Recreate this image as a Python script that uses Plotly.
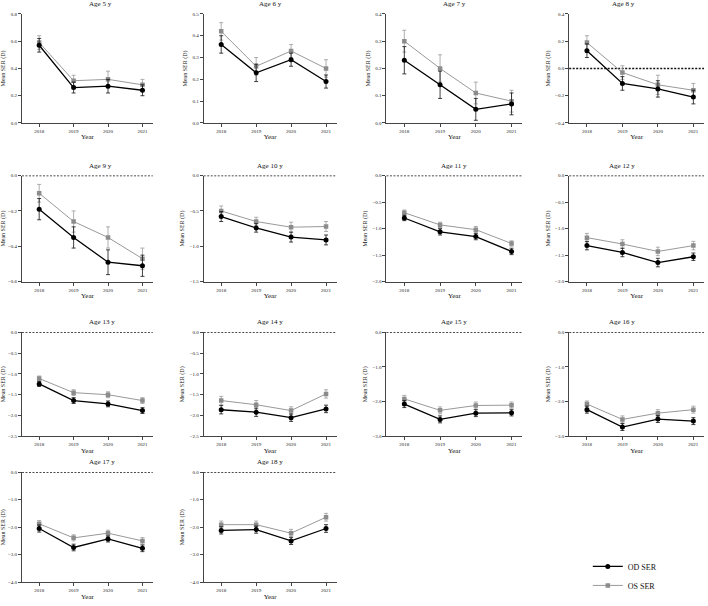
import plotly.graph_objects as go

years = [2018, 2019, 2020, 2021]
ages = [5, 6, 7, 8, 9, 10, 11, 12, 13, 14, 15, 16, 17, 18]

od_ser = {
    5: [0.57, 0.26, 0.27, 0.24],
    6: [0.36, 0.23, 0.29, 0.19],
    7: [0.23, 0.14, 0.05, 0.07],
    8: [0.13, -0.11, -0.15, -0.21],
    9: [-0.19, -0.35, -0.49, -0.51],
    10: [-0.58, -0.74, -0.87, -0.91],
    11: [-0.80, -1.06, -1.15, -1.43],
    12: [-1.32, -1.45, -1.64, -1.53],
    13: [-1.24, -1.64, -1.72, -1.88],
    14: [-1.86, -1.92, -2.05, -1.84],
    15: [-2.07, -2.51, -2.33, -2.32],
    16: [-2.23, -2.73, -2.50, -2.56],
    17: [-2.05, -2.74, -2.43, -2.77],
    18: [-2.12, -2.09, -2.50, -2.05],
}
os_ser = {
    5: [0.59, 0.31, 0.32, 0.28],
    6: [0.42, 0.26, 0.33, 0.25],
    7: [0.30, 0.20, 0.11, 0.08],
    8: [0.19, -0.03, -0.12, -0.16],
    9: [-0.10, -0.26, -0.35, -0.47],
    10: [-0.50, -0.65, -0.73, -0.72],
    11: [-0.70, -0.93, -1.02, -1.28],
    12: [-1.17, -1.29, -1.43, -1.32],
    13: [-1.11, -1.45, -1.50, -1.64],
    14: [-1.64, -1.74, -1.88, -1.48],
    15: [-1.92, -2.25, -2.11, -2.10],
    16: [-2.07, -2.51, -2.33, -2.23],
    17: [-1.88, -2.39, -2.22, -2.50],
    18: [-1.91, -1.91, -2.22, -1.64],
}
od_err = {
    5: [0.05, 0.04, 0.05, 0.04], 6: [0.04, 0.04, 0.03, 0.03],
    7: [0.05, 0.05, 0.04, 0.04], 8: [0.05, 0.05, 0.06, 0.05],
    9: [0.06, 0.06, 0.07, 0.06], 10: [0.07, 0.06, 0.07, 0.07],
    11: [0.05, 0.06, 0.06, 0.06], 12: [0.08, 0.08, 0.08, 0.07],
    13: [0.06, 0.07, 0.07, 0.07], 14: [0.10, 0.10, 0.09, 0.09],
    15: [0.10, 0.10, 0.10, 0.09], 16: [0.10, 0.10, 0.10, 0.10],
    17: [0.13, 0.12, 0.11, 0.12], 18: [0.13, 0.13, 0.13, 0.14],
}
os_err = {
    5: [0.05, 0.04, 0.06, 0.04], 6: [0.04, 0.04, 0.03, 0.04],
    7: [0.04, 0.05, 0.04, 0.04], 8: [0.05, 0.05, 0.07, 0.05],
    9: [0.05, 0.06, 0.06, 0.06], 10: [0.07, 0.06, 0.07, 0.07],
    11: [0.05, 0.05, 0.06, 0.05], 12: [0.08, 0.08, 0.08, 0.08],
    13: [0.06, 0.07, 0.07, 0.07], 14: [0.10, 0.10, 0.09, 0.10],
    15: [0.10, 0.10, 0.10, 0.09], 16: [0.09, 0.10, 0.10, 0.10],
    17: [0.12, 0.11, 0.11, 0.12], 18: [0.13, 0.13, 0.14, 0.14],
}
y_ranges = {
    5: (0, 0.8, 0.2), 6: (0, 0.5, 0.1), 7: (0, 0.4, 0.1), 8: (-0.4, 0.4, 0.2),
    9: (-0.6, 0, 0.2), 10: (-1.5, 0, 0.5), 11: (-2.0, 0, 0.5), 12: (-2.0, 0, 0.5),
    13: (-2.5, 0, 0.5), 14: (-2.5, 0, 0.5), 15: (-3.0, 0, 1.0), 16: (-3.0, 0, 1.0),
    17: (-4.0, 0, 1.0), 18: (-4.0, 0, 1.0),
}

W, H = 708, 606
col_px = [(21, 152), (203, 336), (386, 522), (569, 704)]
row_px = [(12, 122), (175, 282), (333, 438), (474, 585)]

FONT = "Liberation Serif"
fig = go.Figure()
layout = {}
shapes = []
annotations = []

for i, age in enumerate(ages):
    r, c = divmod(i, 4)
    n = i + 1
    xs = "" if n == 1 else str(n)
    x0, x1 = col_px[c]
    yt, yb = row_px[r]
    lo, hi, dt = y_ranges[age]
    layout[f"xaxis{xs}"] = dict(
        domain=[x0 / W, x1 / W], anchor=f"y{xs}", range=[2017.5, 2021.3],
        tickvals=years, ticktext=[str(y) for y in years],
        showline=True, linecolor="#444", linewidth=1, ticks="outside",
        ticklen=3, tickcolor="#444", tickfont=dict(size=5, family=FONT, color="#222"),
        showgrid=False, zeroline=False,
        title=dict(text="Year", font=dict(size=7, family=FONT, color="#111"), standoff=1),
    )
    layout[f"yaxis{xs}"] = dict(
        domain=[1 - yb / H, 1 - yt / H], anchor=f"x{xs}", range=[lo, hi], dtick=dt,
        tick0=0, tickformat=".1f",
        showline=True, linecolor="#444", linewidth=1, ticks="outside",
        ticklen=3, tickcolor="#444", tickfont=dict(size=5, family=FONT, color="#222"),
        showgrid=False, zeroline=False,
        title=dict(text="Mean SER (D)", font=dict(size=6, family=FONT, color="#111"), standoff=4),
    )
    annotations.append(dict(
        text=f"Age {age} y", x=(x0 + x1) / 2 / W, y=1 - (yt - 4) / H,
        xref="paper", yref="paper", showarrow=False, yanchor="bottom",
        font=dict(size=7, family=FONT, color="#111"),
    ))
    if lo < 0 <= hi:
        shapes.append(dict(
            type="line", xref=f"x{xs} domain", yref=f"y{xs}", x0=0, x1=1, y0=0, y1=0,
            line=dict(color="#111", width=1.5, dash="2px,1.5px"), layer="below",
        ))
    fig.add_trace(go.Scatter(
        x=years, y=os_ser[age], mode="lines+markers", name="OS SER",
        xaxis=f"x{xs}", yaxis=f"y{xs}", showlegend=(n == 1), legendrank=2,
        line=dict(color="#999999", width=1),
        marker=dict(symbol="square", size=4.5, color="#8c8c8c"),
        error_y=dict(type="data", array=os_err[age], color="#9a9a9a", thickness=0.8, width=2),
    ))
    fig.add_trace(go.Scatter(
        x=years, y=od_ser[age], mode="lines+markers", name="OD SER",
        xaxis=f"x{xs}", yaxis=f"y{xs}", showlegend=(n == 1), legendrank=1,
        line=dict(color="#000000", width=1.3),
        marker=dict(symbol="circle", size=5, color="#000000"),
        error_y=dict(type="data", array=od_err[age], color="#111111", thickness=0.8, width=2),
    ))

fig.update_layout(
    **layout,
    width=W, height=H, autosize=False,
    margin=dict(l=0, r=0, t=0, b=0),
    paper_bgcolor="white", plot_bgcolor="white",
    shapes=shapes, annotations=annotations,
    font=dict(family=FONT),
    legend=dict(
        x=0.83, y=0.085, xanchor="left", yanchor="top",
        font=dict(size=8, family=FONT, color="#111"),
        bgcolor="rgba(0,0,0,0)", tracegroupgap=2, itemwidth=30,
    ),
)

fig.write_html("out.html")
